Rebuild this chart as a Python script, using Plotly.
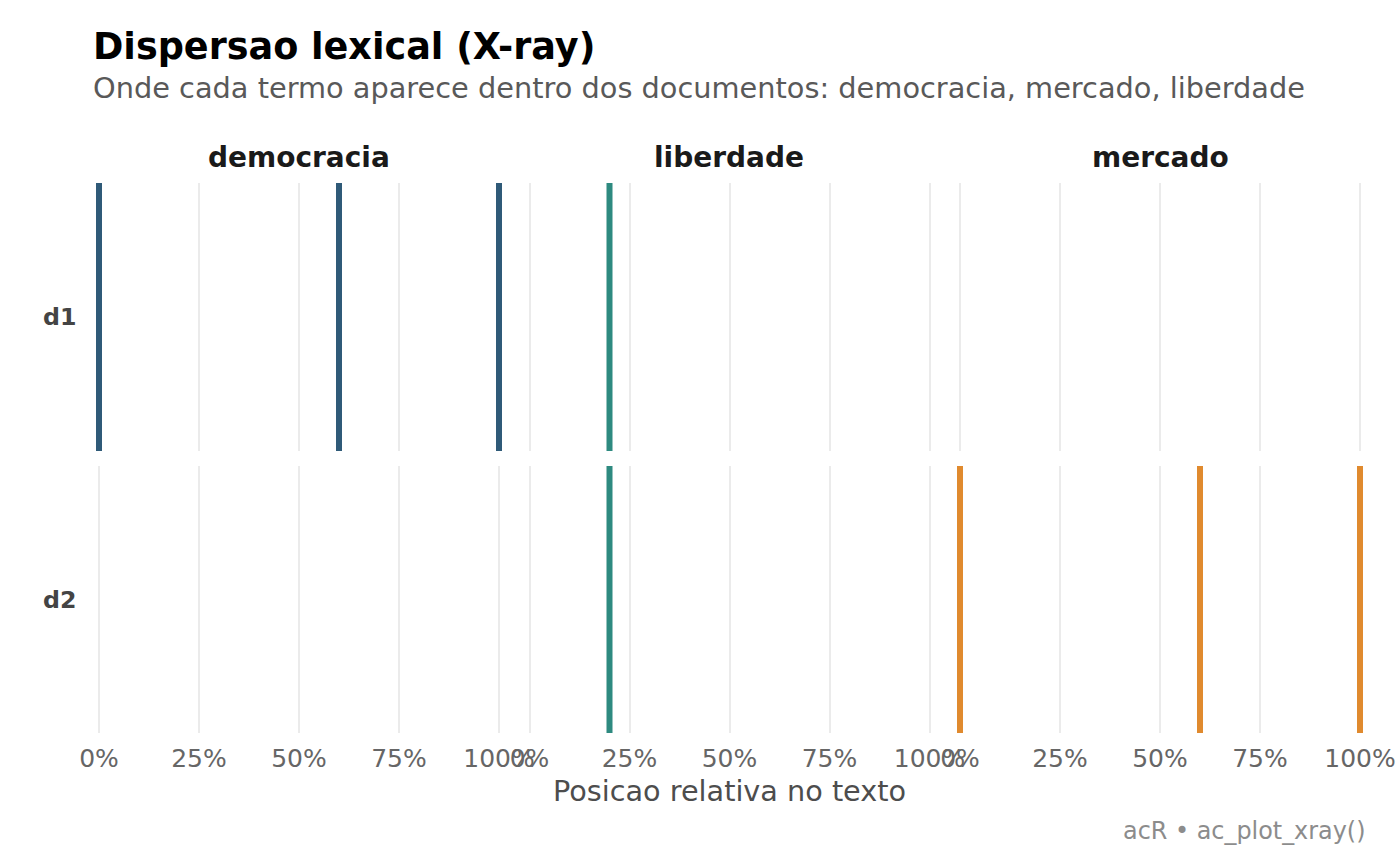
import plotly.graph_objects as go
from plotly.subplots import make_subplots

# termos (colunas) e documentos (linhas)
terms = ["democracia", "liberdade", "mercado"]
docs = ["d1", "d2"]
term_colors = ["#2F5A78", "#2E8A80", "#E08A2E"]

# posicoes relativas de cada ocorrencia (0 = inicio, 1 = fim do documento)
pos_democracia_d1 = [0.0, 0.60, 1.0]
pos_democracia_d2 = []
pos_liberdade_d1 = [0.20]
pos_liberdade_d2 = [0.20]
pos_mercado_d1 = []
pos_mercado_d2 = [0.0, 0.60, 1.0]

tick_vals = [0, 0.25, 0.5, 0.75, 1]
tick_text = ["0%", "25%", "50%", "75%", "100%"]

positions = {
    ("democracia", "d1"): pos_democracia_d1,
    ("democracia", "d2"): pos_democracia_d2,
    ("liberdade", "d1"): pos_liberdade_d1,
    ("liberdade", "d2"): pos_liberdade_d2,
    ("mercado", "d1"): pos_mercado_d1,
    ("mercado", "d2"): pos_mercado_d2,
}

W, H = 1400, 866
FONT = "DejaVu Sans"

fig = make_subplots(rows=2, cols=3)

# dominios dos paineis (em pixels -> fracao)
col_px = [(91, 507), (521.5, 937.5), (952, 1368)]
row_px = [(183, 451), (466, 733)]

for r, doc in enumerate(docs):
    for c, term in enumerate(terms):
        xs, ys = [], []
        for p in positions[(term, doc)]:
            xs += [p, p, None]
            ys += [0, 1, None]
        fig.add_trace(go.Scatter(x=xs, y=ys, mode="lines",
                                 line=dict(color=term_colors[c], width=6),
                                 showlegend=False, hoverinfo="skip"),
                      row=r + 1, col=c + 1)
        x0, x1 = col_px[c]
        y0, y1 = row_px[r]
        fig.update_xaxes(domain=[x0 / W, x1 / W], range=[-0.02, 1.02],
                         tickvals=tick_vals, ticktext=tick_text,
                         showticklabels=(r == 1), showgrid=True, automargin=False,
                         gridcolor="#EBEBEB", gridwidth=2, zeroline=False,
                         showline=False, ticks="outside", ticklen=3,
                         tickcolor="rgba(0,0,0,0)",
                         tickfont=dict(family=FONT, size=25, color="#666666"),
                         row=r + 1, col=c + 1)
        fig.update_yaxes(domain=[1 - y1 / H, 1 - y0 / H], range=[0, 1],
                         showticklabels=False, showgrid=False, zeroline=False,
                         showline=False, ticks="", automargin=False,
                         row=r + 1, col=c + 1)

annotations = []
# titulos das faixas (strips)
for c, term in enumerate(terms):
    x0, x1 = col_px[c]
    annotations.append(dict(text="<b>" + term + "</b>", x=(x0 + x1) / 2 / W, y=1 - 158 / H,
                            xref="paper", yref="paper", showarrow=False,
                            xanchor="center", yanchor="middle",
                            font=dict(family=FONT, size=28, color="#1A1A1A")))
# rotulos dos documentos
for r, doc in enumerate(docs):
    y0, y1 = row_px[r]
    annotations.append(dict(text="<b>" + doc + "</b>", x=78 / W, y=1 - (y0 + y1) / 2 / H,
                            xref="paper", yref="paper", showarrow=False,
                            xanchor="right", yanchor="middle",
                            font=dict(family=FONT, size=23.7, color="#444444")))
# titulo, subtitulo, eixo, legenda
annotations += [
    dict(text="<b>Dispersao lexical (X-ray)</b>", x=91 / W, y=1 - 46 / H,
         xref="paper", yref="paper", showarrow=False, xanchor="left", yanchor="middle",
         font=dict(family=FONT, size=36.6, color="#000000")),
    dict(text="Onde cada termo aparece dentro dos documentos: democracia, mercado, liberdade",
         x=91 / W, y=1 - 88 / H, xref="paper", yref="paper", showarrow=False,
         xanchor="left", yanchor="middle",
         font=dict(family=FONT, size=28.8, color="#595959")),
    dict(text="Posicao relativa no texto", x=729.5 / W, y=1 - 791 / H,
         xref="paper", yref="paper", showarrow=False, xanchor="center", yanchor="middle",
         font=dict(family=FONT, size=28.7, color="#4D4D4D")),
    dict(text="acR \u2022 ac_plot_xray()", x=1368 / W, y=1 - 831 / H,
         xref="paper", yref="paper", showarrow=False, xanchor="right", yanchor="middle",
         font=dict(family=FONT, size=23.9, color="#8C8C8C")),
]

fig.update_layout(
    width=W, height=H,
    margin=dict(l=0, r=0, t=0, b=0),
    paper_bgcolor="white", plot_bgcolor="white",
    annotations=annotations,
)

# sem margem no body, para a figura ocupar exatamente a janela
fig.write_html("out.html", config={"displayModeBar": False},
               post_script="document.body.style.margin='0';document.body.style.overflow='hidden';")
